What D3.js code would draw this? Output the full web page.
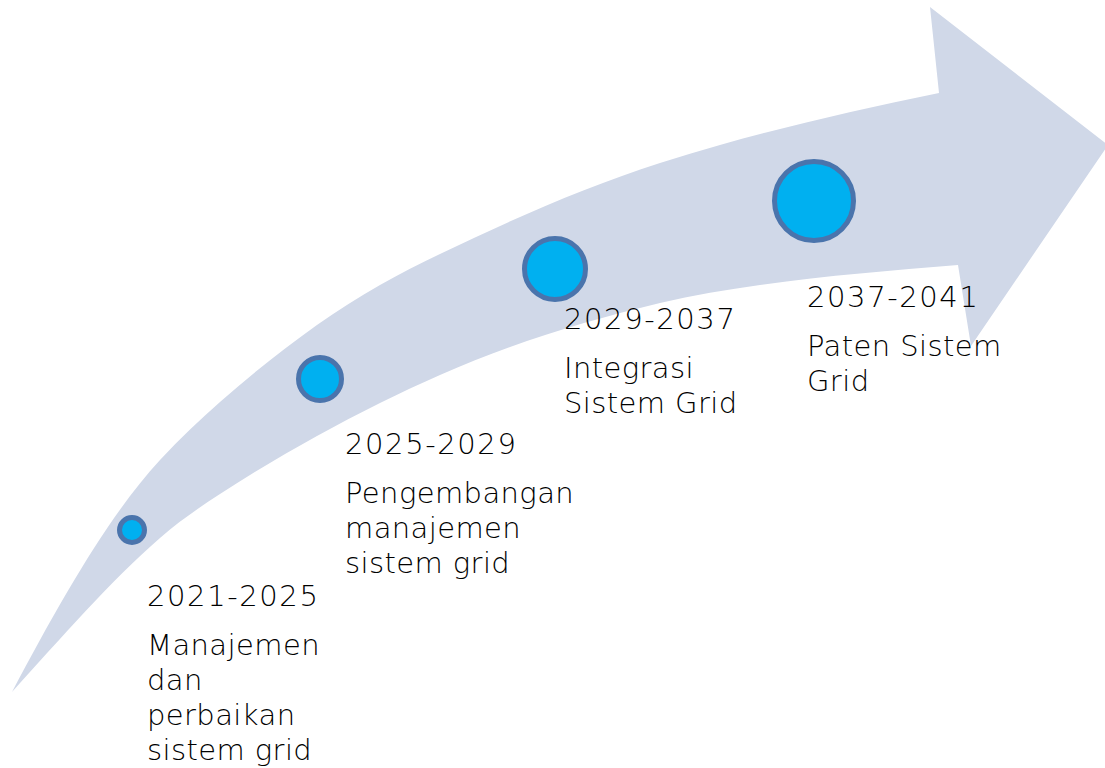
<!DOCTYPE html>
<html>
<head>
<meta charset="utf-8">
<script src="https://cdn.jsdelivr.net/npm/d3@7/dist/d3.min.js"></script>
<style>
  html, body { margin: 0; padding: 0; background: #ffffff; }
  svg { display: block; }
</style>
</head>
<body>
<svg id="chart" width="1105" height="768"></svg>
<script>
// ---- data ----
const periods = ["2021-2025", "2025-2029", "2029-2037", "2037-2041"];
const descriptions = [
  ["Manajemen", "dan", "perbaikan", "sistem grid"],
  ["Pengembangan", "manajemen", "sistem grid"],
  ["Integrasi", "Sistem Grid"],
  ["Paten Sistem", "Grid"]
];
const stageSize = [1, 2, 3, 4];

// ---- layout ----
const W = 1105, H = 768;
const svg = d3.select("#chart");

const circleCenters = [[132, 530], [320, 379], [555, 269], [814, 201]];
const labelAnchors = [[147, 606], [345, 454], [564, 329], [807, 307]];

const rScale = d3.scaleLinear().domain([1, 4]).range([12.5, 39.5]);

// arrow body edges: [x, y, slope] knots joined by Hermite cubic segments
const upperEdge = [[12, 692, -1.9], [160, 460, -1.08], [220, 402, -0.88], [380, 285, -0.57],
  [440, 254, -0.48], [660, 163, -0.32], [720, 145, -0.28], [939, 93, -0.2]];
const lowerEdge = [[12, 692, -1.1], [160, 538, -0.87], [220, 494, -0.65], [380, 403, -0.5],
  [440, 375, -0.44], [660, 303, -0.24], [760, 285, -0.14], [958, 265, -0.08]];
const head = [[930, 7], [1108, 145], [971, 346]];

const p = d3.path();
p.moveTo(upperEdge[0][0], upperEdge[0][1]);
for (let i = 1; i < upperEdge.length; i++) {
  const [x0, y0, s0] = upperEdge[i - 1], [x1, y1, s1] = upperEdge[i];
  const dx = x1 - x0;
  p.bezierCurveTo(x0 + dx / 3, y0 + s0 * dx / 3, x1 - dx / 3, y1 - s1 * dx / 3, x1, y1);
}
head.forEach(pt => p.lineTo(pt[0], pt[1]));
const lastLow = lowerEdge[lowerEdge.length - 1];
p.lineTo(lastLow[0], lastLow[1]);
for (let i = lowerEdge.length - 1; i > 0; i--) {
  const [x0, y0, s0] = lowerEdge[i - 1], [x1, y1, s1] = lowerEdge[i];
  const dx = x1 - x0;
  p.bezierCurveTo(x1 - dx / 3, y1 - s1 * dx / 3, x0 + dx / 3, y0 + s0 * dx / 3, x0, y0);
}
p.closePath();

svg.append("path")
  .attr("d", p.toString())
  .attr("fill", "#D0D8E8");

// circles
svg.selectAll("circle.stage")
  .data(stageSize)
  .join("circle")
  .attr("class", "stage")
  .attr("cx", (d, i) => circleCenters[i][0])
  .attr("cy", (d, i) => circleCenters[i][1])
  .attr("r", d => rScale(d))
  .attr("fill", "#00B0F0")
  .attr("stroke", "#4A74AC")
  .attr("stroke-width", 5);

// labels
const fontFamily = "'DejaVu Sans', sans-serif";
const g = svg.selectAll("g.label")
  .data(periods)
  .join("g")
  .attr("class", "label")
  .attr("transform", (d, i) => `translate(${labelAnchors[i][0]},${labelAnchors[i][1]})`);

g.append("text")
  .attr("x", 0).attr("y", 0)
  .attr("font-family", fontFamily)
  .attr("font-weight", 200)
  .attr("font-size", 29)
  .attr("letter-spacing", 1.6)
  .attr("fill", "#000")
  .text(d => d);

g.each(function(d, i) {
  const t = d3.select(this).append("text")
    .attr("font-family", fontFamily)
    .attr("font-weight", 200)
    .attr("font-size", 29)
    .attr("letter-spacing", 0.4)
    .attr("fill", "#000");
  descriptions[i].forEach((s, k) => {
    t.append("tspan").attr("x", 0).attr("y", 49 + k * 35).text(s);
  });
});
</script>
</body>
</html>
